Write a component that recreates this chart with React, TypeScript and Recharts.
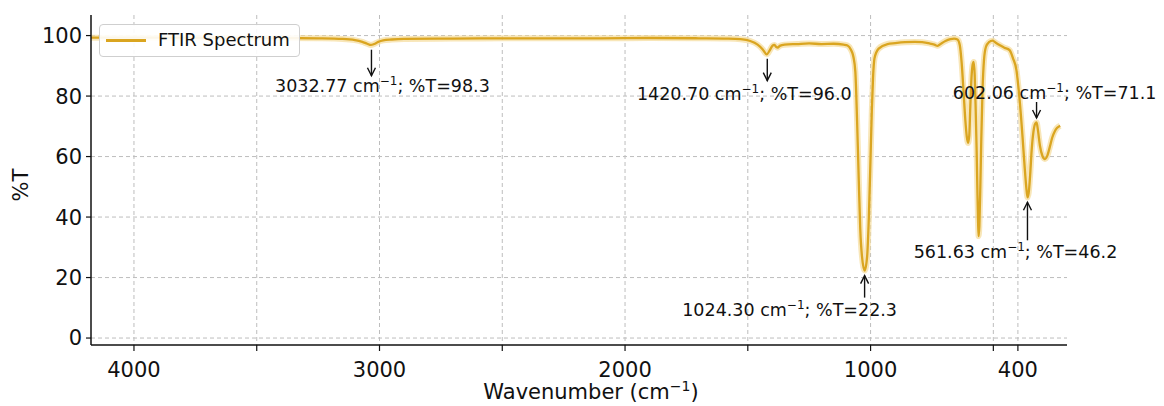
import React from 'react';
import { LineChart, Line, XAxis, YAxis, CartesianGrid, Legend, ReferenceDot } from 'recharts';

// spectrum (wavenumber in cm-1, %T)
const wavenumbers = [
  4175, 4000, 3800, 3600, 3400, 3250, 3150, 3100, 3070, 3050, 3035, 3022, 3005, 2985, 2950, 2900,
  2700, 2500, 2300, 2100, 1900, 1700, 1580, 1530, 1490, 1460, 1440, 1423, 1410, 1400, 1392, 1385,
  1378, 1370, 1350, 1300, 1250, 1200, 1150, 1110, 1094, 1080, 1070, 1062, 1055, 1048, 1042, 1035,
  1024, 1014, 1007, 1000, 995, 990, 984, 967, 931, 900, 860, 820, 790, 760, 740, 727,
  712, 695, 675, 660, 646, 637, 629, 621, 614, 608, 603, 598, 594, 589, 584, 580,
  576, 572, 568, 565, 562, 560, 557, 553, 549, 544, 538, 530, 518, 503, 490, 475,
  455, 434, 420, 406, 394, 381, 372, 366, 361, 356, 350, 344, 337, 330, 324, 318,
  310, 300, 290, 280, 270, 260, 250, 240, 228,
];
const transmittance = [
  99.3, 99.3, 99.3, 99.2, 99.2, 99.1, 98.9, 98.5, 97.9, 97.3, 96.9, 97.2, 97.9, 98.4, 98.7, 98.9,
  99.0, 99.1, 99.1, 99.1, 99.2, 99.1, 99.0, 98.8, 98.2, 97.0, 95.5, 93.8, 95.2, 96.6, 96.9, 96.3,
  96.0, 96.6, 97.0, 97.2, 97.4, 97.2, 97.3, 97.0, 96.7, 95.3, 93.0, 88.0, 72.0, 52.0, 36.0, 27.0,
  22.3, 27.0, 40.0, 60.0, 75.0, 86.0, 92.5, 95.7, 97.2, 97.5, 97.8, 97.9, 97.8, 97.4, 97.0, 96.6,
  97.4, 98.2, 98.8, 99.0, 98.7, 97.0, 91.0, 81.0, 72.0, 66.5, 64.5, 67.0, 76.0, 86.0, 90.5, 91.3,
  87.0, 76.0, 62.0, 49.0, 38.0, 33.7, 37.0, 50.0, 66.0, 82.0, 92.0, 96.3, 97.8, 98.3, 97.6, 96.9,
  96.0, 95.2, 92.5, 88.6, 79.7, 66.4, 56.0, 50.0, 46.5, 48.0, 54.0, 62.0, 68.0, 70.8, 71.3, 68.5,
  63.5, 60.2, 59.2, 60.3, 63.2, 66.3, 68.3, 69.5, 70.2,
];

const xTicks = [4000, 3500, 3000, 2500, 2000, 1500, 1000, 500, 400];
const xTickLabels = [4000, 3000, 2000, 1000, 400];
const yTicks = [0, 20, 40, 60, 80, 100];

// annotated peaks: where the arrow sits, and what its label says
const peakX = [3032.77, 1420.7, 1024.3, 361, 324];
const peakT = [98.3, 96.0, 22.3, 46.2, 71.1];
const peakWnText = ['3032.77', '1420.70', '1024.30', '561.63', '602.06'];
const peakTText = ['98.3', '96.0', '22.3', '46.2', '71.1'];

// arrow tail/head and text offsets from the marked point (px)
const calloutLayout = [
  { tail: 9, head: 35, dx: 11, dy: 51 },
  { tail: 11, head: 33, dx: -23, dy: 52 },
  { tail: 27, head: 5, dx: -75, dy: 45 },
  { tail: 42, head: 4, dx: -12, dy: 60 },
  { tail: -21, head: -5, dx: 18, dy: -24 },
];

const spectrum = wavenumbers.map((wn, i) => ({ wn, t: transmittance[i] }));

const LINE_COLOR = '#DAA520';
const FONT = '"DejaVu Sans", sans-serif';

const Callout = ({ cx, cy, idx }: any) => {
  const l = calloutLayout[idx];
  const s = Math.sign(l.head - l.tail);
  const hy = cy + l.head;
  return (
    <g>
      <line x1={cx} y1={cy + l.tail} x2={cx} y2={hy} stroke="#111" strokeWidth={1.4} />
      <polyline
        points={`${cx - 4},${hy - s * 8} ${cx},${hy} ${cx + 4},${hy - s * 8}`}
        fill="none"
        stroke="#111"
        strokeWidth={1.4}
      />
      <text x={cx + l.dx} y={cy + l.dy} textAnchor="middle" fontSize={17.5} fill="#111" fontFamily={FONT}>
        <tspan>{peakWnText[idx]} cm</tspan>
        <tspan dy={-7} fontSize={12}>−1</tspan>
        <tspan dy={7}>; %T={peakTText[idx]}</tspan>
      </text>
    </g>
  );
};

const LegendBox = () => (
  <div
    style={{
      width: 199,
      height: 31,
      border: '1px solid #cfcfcf',
      borderRadius: 4,
      background: 'rgba(255,255,255,0.9)',
      position: 'relative',
      fontFamily: FONT,
    }}
  >
    <div style={{ position: 'absolute', left: 6, top: 14, width: 40, height: 3, background: LINE_COLOR }} />
    <div style={{ position: 'absolute', left: 58, top: 4, fontSize: 18, color: '#111', whiteSpace: 'nowrap' }}>
      FTIR Spectrum
    </div>
  </div>
);

const XLabel = (props: any) => {
  const vb = props.viewBox || { x: 83, y: 337, width: 976, height: 61 };
  return (
    <text x={vb.x + vb.width / 2 + 12} y={vb.y + 54} textAnchor="middle" fontSize={21} fill="#111" fontFamily={FONT}>
      <tspan>Wavenumber (cm</tspan>
      <tspan dy={-8} fontSize={14}>−1</tspan>
      <tspan dy={8}>)</tspan>
    </text>
  );
};

const YLabel = (props: any) => {
  const vb = props.viewBox || { x: 23, y: 7, width: 60, height: 330 };
  const x = vb.x - 10;
  const y = vb.y + vb.height / 2 + 5;
  return (
    <text
      x={x}
      y={y}
      transform={`rotate(-90, ${x}, ${y})`}
      textAnchor="middle"
      dominantBaseline="central"
      fontSize={21}
      fill="#111"
      fontFamily={FONT}
    >
      %T
    </text>
  );
};

export default function App() {
  return (
    <div style={{ width: 1156, height: 398, fontFamily: FONT }}>
      <LineChart width={1156} height={398} data={spectrum} margin={{ top: 7, right: 97, left: 23, bottom: 0 }}>
        <CartesianGrid stroke="#bdbdbd" strokeDasharray="4 3" syncWithTicks />
        <XAxis
          dataKey="wn"
          type="number"
          domain={[200, 4175]}
          reversed
          allowDataOverflow
          ticks={xTicks}
          interval={0}
          tickFormatter={(v: number) => (xTickLabels.includes(v) ? String(v) : '')}
          height={61}
          tickSize={6}
          tickMargin={11}
          tick={{ fontSize: 21, fill: '#111' }}
          axisLine={{ stroke: '#111', strokeWidth: 1.5 }}
          tickLine={{ stroke: '#111', strokeWidth: 1.2 }}
          label={XLabel}
        />
        <YAxis
          type="number"
          domain={[-2.3, 106.8]}
          allowDataOverflow
          ticks={yTicks}
          interval={0}
          width={60}
          tickSize={5}
          tickMargin={4}
          tick={{ fontSize: 21, fill: '#111' }}
          axisLine={{ stroke: '#111', strokeWidth: 1.5 }}
          tickLine={{ stroke: '#111', strokeWidth: 1.2 }}
          label={YLabel}
        />
        <Line
          dataKey="t"
          type="monotone"
          stroke="#F5DC9A"
          strokeOpacity={0.7}
          strokeWidth={6}
          dot={false}
          legendType="none"
          isAnimationActive={false}
        />
        <Line
          dataKey="t"
          name="FTIR Spectrum"
          type="monotone"
          stroke={LINE_COLOR}
          strokeWidth={2.3}
          dot={false}
          isAnimationActive={false}
        />
        {peakX.map((x, i) => (
          <ReferenceDot
            key={peakWnText[i]}
            x={x}
            y={peakT[i]}
            ifOverflow="visible"
            shape={(p: any) => <Callout cx={p.cx} cy={p.cy} idx={i} />}
          />
        ))}
        <Legend
          layout="vertical"
          align="center"
          verticalAlign="middle"
          content={() => <LegendBox />}
          wrapperStyle={{ left: 91, top: 16, width: 'auto' }}
        />
      </LineChart>
    </div>
  );
}
